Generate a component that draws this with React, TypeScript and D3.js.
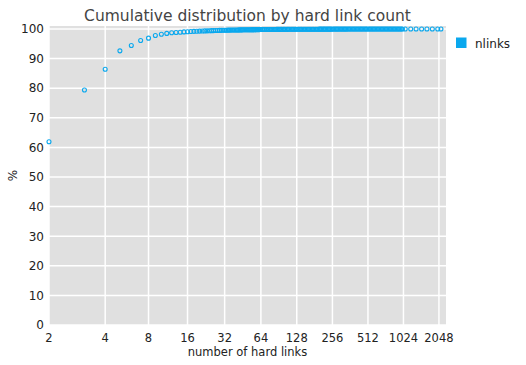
import * as d3 from "d3";

// tick labels and axis extents
const xTicks = [2, 4, 8, 16, 32, 64, 128, 256, 512, 1024, 2048];
const yTicks = [0, 10, 20, 30, 40, 50, 60, 70, 80, 90, 100];

// hard link counts (x)
const linkCounts = [
  2, 3, 4, 5, 6, 7, 8, 9, 10, 11,
  12, 13, 14, 15, 16, 17, 18, 19, 20, 21,
  22, 23, 24, 25, 26, 27, 28, 29, 30, 31,
  32, 33, 34, 35, 36, 37, 38, 39, 40, 41,
  42, 43, 44, 45, 46, 47, 48, 49, 50, 51,
  52, 53, 54, 55, 56, 57, 58, 59, 60, 61,
  62, 63, 64,
  66, 68, 69, 71, 73, 75, 77, 79, 81, 83,
  85, 87, 89, 91, 94, 96, 99, 101, 104, 107,
  109, 112, 115, 118, 121, 124, 127, 131, 134, 138,
  141, 145, 149, 153, 157, 161, 165, 169, 174, 178,
  183, 188, 193, 198, 203, 208, 214, 219, 225, 231,
  237, 243, 249, 256, 263, 270, 277, 284, 291, 299,
  307, 315, 323, 331, 340, 349, 358, 367, 377, 387,
  397, 407, 418, 429, 440, 451, 463, 475, 488, 500,
  513, 527, 541, 555, 569, 584, 599, 615, 631, 648,
  665, 682, 700, 718, 737, 756, 776, 796, 817, 838,
  860, 883, 906, 929, 954, 978, 1004, 1060, 1180, 1310,
  1460, 1620, 1800, 2000, 2130,
];

// cumulative percentage of files (y)
const cumulative = [
  61.9, 79.4, 86.4, 92.6, 94.4, 96.1, 96.9, 97.8, 98.2, 98.5,
  98.7, 98.8, 98.9, 99.0, 99.08, 99.14, 99.19, 99.23, 99.27, 99.31,
  99.34, 99.37, 99.4, 99.43, 99.45, 99.47, 99.49, 99.51, 99.53, 99.55,
  99.57, 99.58, 99.6, 99.61, 99.62, 99.63, 99.64, 99.65, 99.66, 99.67,
  99.68, 99.69, 99.7, 99.7, 99.71, 99.72, 99.72, 99.73, 99.74, 99.74,
  99.75, 99.75, 99.76, 99.76, 99.77, 99.77, 99.78, 99.78, 99.78, 99.79,
  99.79, 99.8, 99.8,
  99.81, 99.81, 99.82, 99.82, 99.82, 99.83, 99.83, 99.83, 99.84, 99.84,
  99.84, 99.85, 99.85, 99.85, 99.86, 99.86, 99.86, 99.87, 99.87, 99.87,
  99.88, 99.88, 99.88, 99.88, 99.89, 99.89, 99.89, 99.89, 99.9, 99.9,
  99.9, 99.9, 99.9, 99.91, 99.91, 99.91, 99.91, 99.91, 99.92, 99.92,
  99.92, 99.92, 99.92, 99.93, 99.93, 99.93, 99.93, 99.93, 99.94, 99.94,
  99.94, 99.94, 99.94, 99.95, 99.95, 99.95, 99.95, 99.95, 99.95, 99.96,
  99.96, 99.96, 99.96, 99.96, 99.96, 99.97, 99.97, 99.97, 99.97, 99.97,
  99.97, 99.97, 99.97, 99.98, 99.98, 99.98, 99.98, 99.98, 99.98, 99.98,
  99.98, 99.98, 99.98, 99.98, 99.99, 99.99, 99.99, 99.99, 99.99, 99.99,
  99.99, 99.99, 99.99, 99.99, 99.99, 99.99, 99.99, 99.99, 99.99, 99.99,
  99.99, 99.99, 99.99, 99.99, 99.99, 99.99, 100, 100, 100, 100,
  100, 100, 100, 100, 100,
];

const W = 526;
const H = 365;
const left = 49;
const right = 446;
const top = 26;
const bottom = 325;
const blue = "#0aa8ee";
const font = "DejaVu Sans, sans-serif";

const App = () => {
  // counts are plotted on a log scale of (n - 1)
  const xScale = d3.scaleLog().domain([1, 2350]).range([left, right]);
  const x = (n: number) => xScale(n - 1);
  const yScale = d3.scaleLinear().domain([0, 101]).range([bottom, top]);
  const points = d3.zip(linkCounts, cumulative);

  return (
    <svg
      width={W}
      height={H}
      style={{ position: "absolute", left: 0, top: 0 }}
      fontFamily={font}
    >
      <rect x={0} y={0} width={W} height={H} fill="#fff" />
      <text
        x={(left + right) / 2}
        y={21}
        textAnchor="middle"
        fontSize={15.5}
        fill="#444"
      >
        Cumulative distribution by hard link count
      </text>
      <rect
        x={left}
        y={top}
        width={right - left}
        height={bottom - top}
        fill="#e0e0e0"
      />
      {/* grid */}
      {yTicks.map((t) => (
        <line
          key={"gy" + t}
          x1={left}
          x2={right}
          y1={yScale(t)}
          y2={yScale(t)}
          stroke="#fff"
          strokeWidth={1.5}
        />
      ))}
      {xTicks.map((t) => (
        <line
          key={"gx" + t}
          x1={x(t)}
          x2={x(t)}
          y1={top}
          y2={bottom}
          stroke="#fff"
          strokeWidth={1.5}
        />
      ))}
      {/* points */}
      {points.map(([n, v]) => (
        <circle
          key={"p" + n}
          cx={x(n)}
          cy={yScale(v)}
          r={2}
          fill="none"
          stroke={blue}
          strokeWidth={1.1}
        />
      ))}
      {/* y tick labels */}
      {yTicks.map((t) => (
        <text
          key={"ty" + t}
          x={left - 5}
          y={yScale(t)}
          dy="0.36em"
          textAnchor="end"
          fontSize={12}
          fill="#222"
        >
          {t}
        </text>
      ))}
      {/* x tick labels */}
      {xTicks.map((t) => (
        <text
          key={"tx" + t}
          x={x(t)}
          y={342}
          textAnchor="middle"
          fontSize={11.5}
          fill="#222"
        >
          {t}
        </text>
      ))}
      <text
        x={(left + right) / 2}
        y={356}
        textAnchor="middle"
        fontSize={11.5}
        fill="#222"
      >
        number of hard links
      </text>
      <text
        transform={`translate(17,${(top + bottom) / 2}) rotate(-90)`}
        textAnchor="middle"
        fontSize={12}
        fill="#222"
      >
        %
      </text>
      {/* legend */}
      <rect x={456} y={37.5} width={10.5} height={10.5} fill={blue} />
      <text x={475} y={47.5} fontSize={12} fill="#222">
        nlinks
      </text>
    </svg>
  );
};

export default App;
